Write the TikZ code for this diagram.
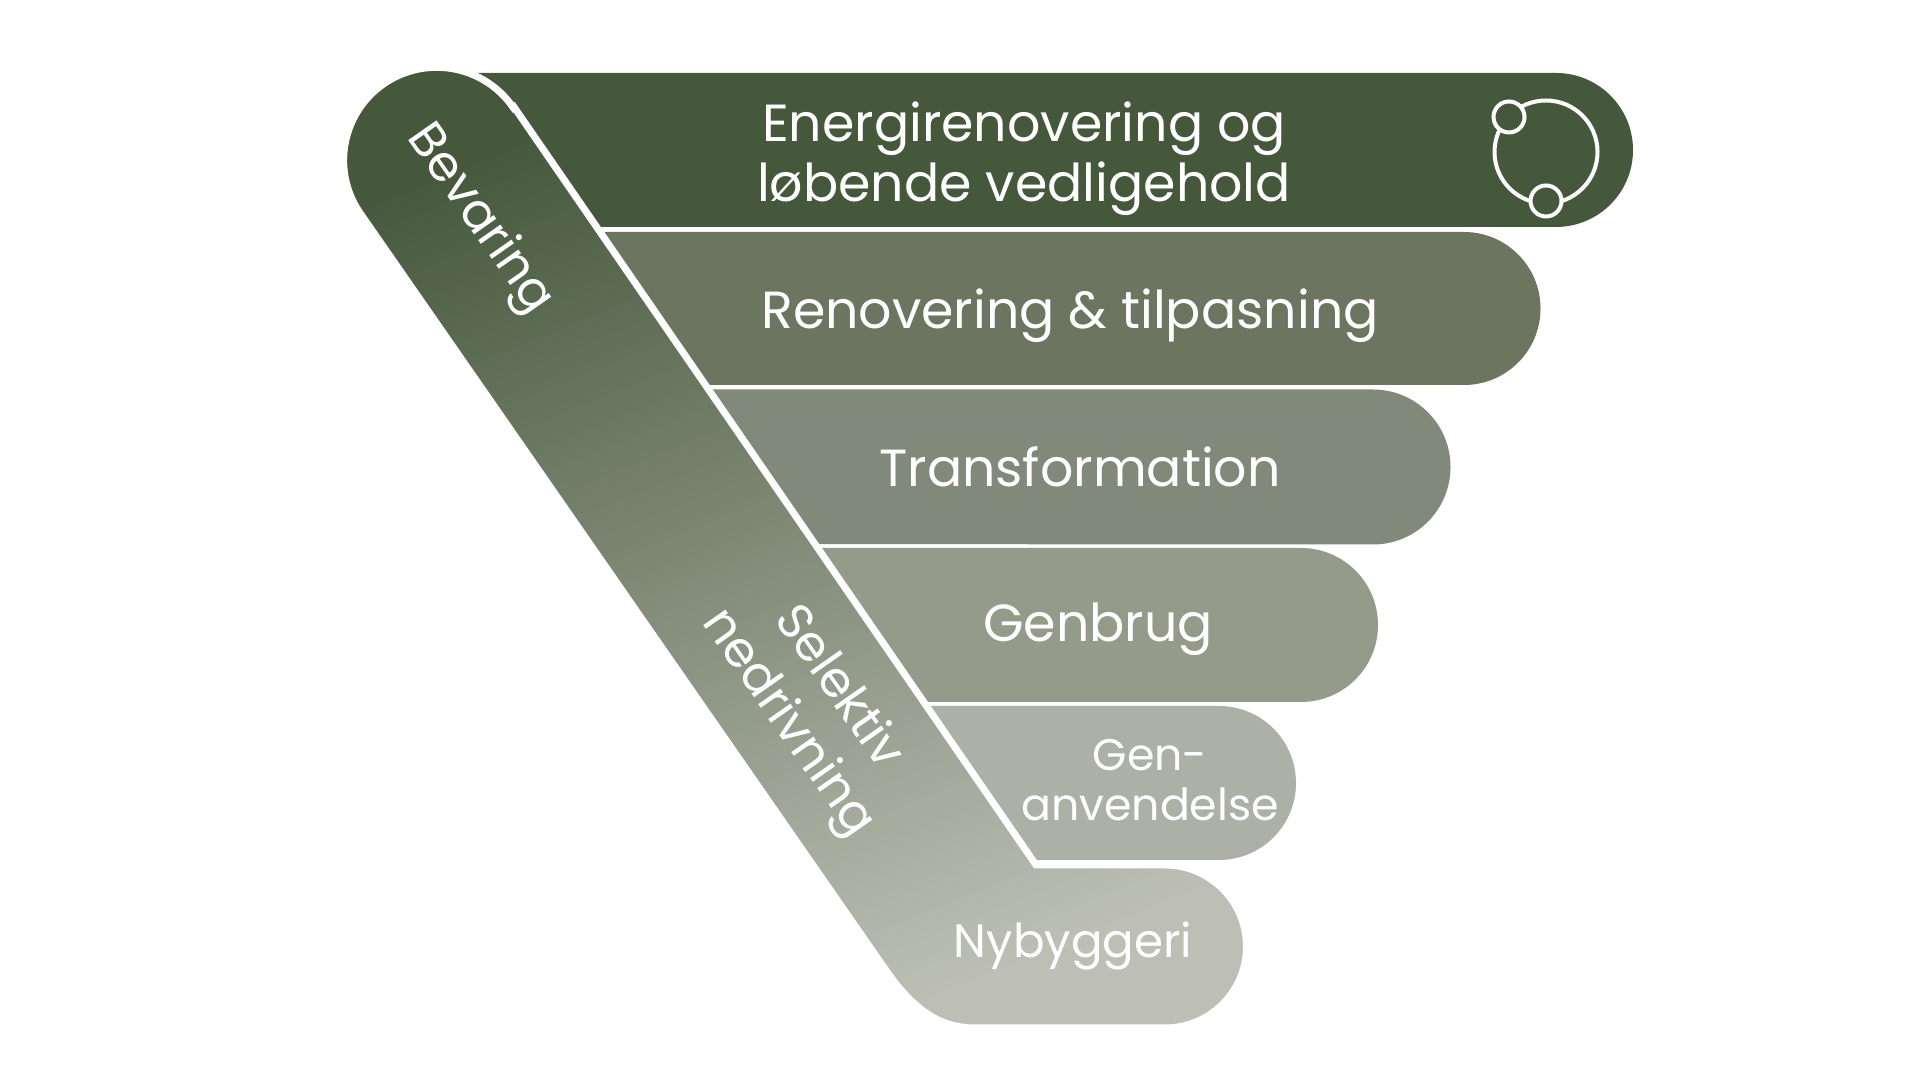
\documentclass[tikz,border=0pt]{standalone}
\usepackage{fontspec}
\setmainfont{Poppins}
\definecolor{barone}{HTML}{45583C}
\definecolor{bartwo}{HTML}{6B7560}
\definecolor{barthree}{HTML}{80897A}
\definecolor{barfour}{HTML}{959B8B}
\definecolor{barfive}{HTML}{ADB0A6}
\definecolor{bandlight}{HTML}{BDBFB5}
\definecolor{bandmid}{HTML}{767D6E}
\begin{document}
\begin{tikzpicture}[
    barlabel/.style={text=white, align=center, inner sep=0pt, font=\fontsize{14.85}{17}\selectfont},
    smalllabel/.style={barlabel, font=\fontsize{12.6}{14.4}\selectfont},
    slantlabel/.style={barlabel, rotate=-55, font=\fontsize{14.1}{17.5}\selectfont},
    ringnode/.style={circle, draw=white, fill=barone, line width=0.4mm, inner sep=0pt, outer sep=0pt}
]
\useasboundingbox (0,0) rectangle (19.2,10.8);
% Bjaelker bag det skraa baand
\fill[barone] (4.7,10.07) -- (15.56,10.07) arc (90:-90:0.77) -- (4.7,8.53) -- cycle;
\fill[bartwo] (5.6,8.48) -- (14.64,8.48) arc (90:-90:0.765) -- (5.6,6.95) -- cycle;
\fill[barthree] (6.5,6.905) -- (13.73,6.905) arc (90:-90:0.775) -- (6.5,5.36) -- cycle;
\fill[barfour] (7.5,5.32) -- (13.01,5.32) arc (90:-90:0.77) -- (7.5,3.78) -- cycle;
\fill[barfive] (8.5,3.74) -- (12.19,3.74) arc (90:-90:0.77) -- (8.5,2.2) -- cycle;
% Skraat baand med afrundet top og Nybyggeri forneden
\path[draw=white, line width=0.7mm, top color=barone, middle color=bandmid, bottom color=bandlight, shading angle=22]
    (5.14,9.73) -- (10.36,2.15) -- (11.65,2.15) arc (90:-90:0.815) -- (9.75,0.52)
    .. controls (9.38,0.52) and (9.12,0.72) .. (8.85,1.11)
    -- (3.60,8.67) arc (214.5:34.5:0.93) -- cycle;
% Ikon
\node[ringnode, minimum size=1.03cm] (ringbig) at (15.46,9.28) {};
\node[ringnode, minimum size=0.31cm] (ringtop) at (15.09,9.63) {};
\node[ringnode, minimum size=0.31cm] (ringlow) at (15.46,8.79) {};
% Tekster
\node[barlabel] (energi) at (10.24,9.21) {Energirenovering og\\løbende vedligehold};
\node[barlabel] (renovering) at (10.70,7.64) {Renovering \& tilpasning};
\node[barlabel] (transformation) at (10.80,6.13) {Transformation};
\node[barlabel] (genbrug) at (10.98,4.51) {Genbrug};
\node[smalllabel] (genanvendelse) at (11.50,3.00) {Gen-\\anvendelse};
\node[smalllabel, font=\fontsize{13.3}{15}\selectfont] (nybyggeri) at (10.73,1.34) {Nybyggeri};
\node[slantlabel] (bevaring) at (4.79,8.60) {Bevaring};
\node[slantlabel] (selektiv) at (8.12,3.74) {Selektiv\\nedrivning};
\end{tikzpicture}
\end{document}
